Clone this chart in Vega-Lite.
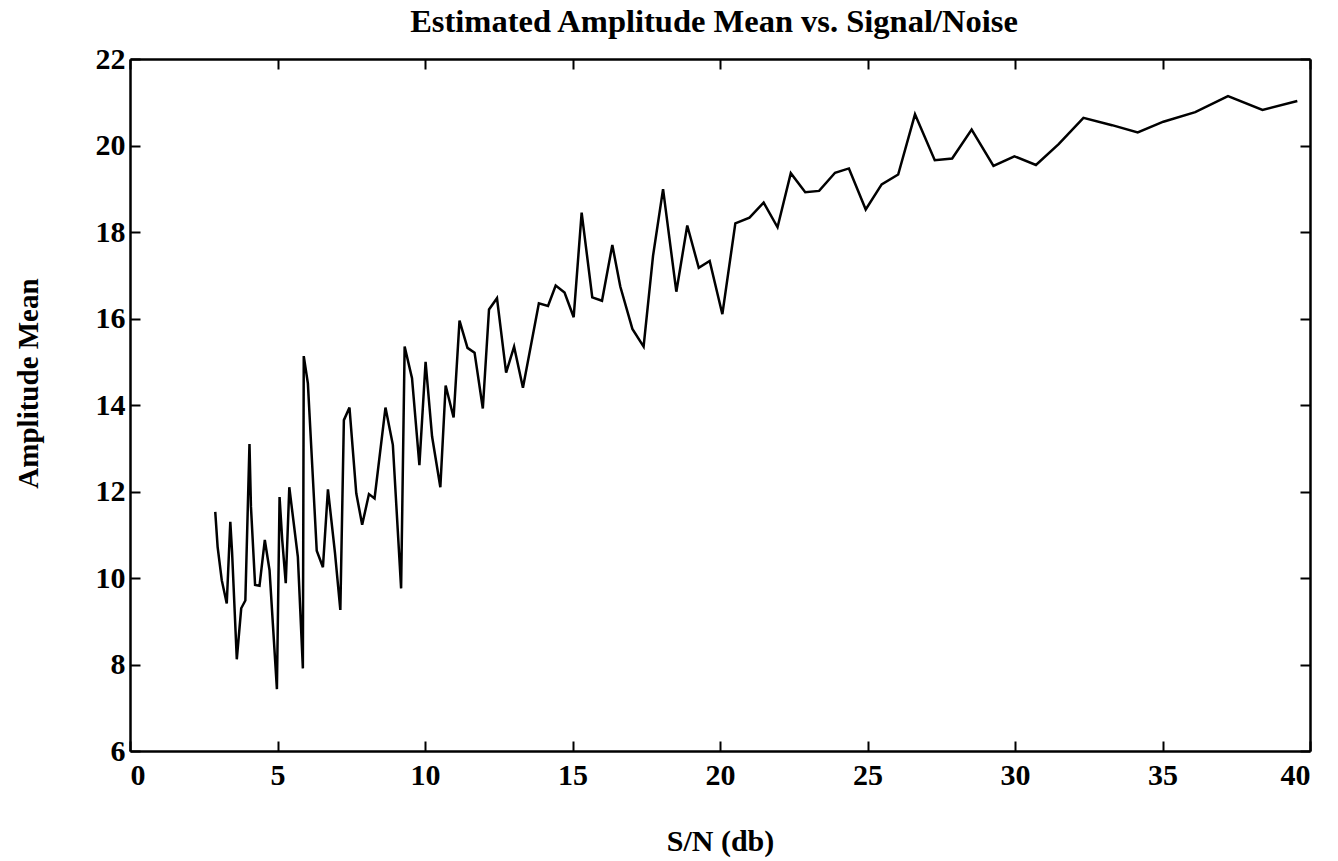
{
  "$schema": "https://vega.github.io/schema/vega-lite/v6.json",
  "autosize": {"type": "none"},
  "width": 1180,
  "height": 692,
  "padding": {"left": 130, "top": 59, "right": 28, "bottom": 110},
  "background": "white",
  "title": {
    "text": "Estimated Amplitude Mean vs. Signal/Noise",
    "font": "Liberation Serif",
    "fontSize": 32.5,
    "fontWeight": "bold",
    "color": "black",
    "anchor": "middle",
    "baseline": "alphabetic",
    "offset": -20,
    "dx": -6
  },
  "config": {"view": {"stroke": null}},
  "data": {
    "values": [
      {"sn": 2.89, "amp": 11.53},
      {"sn": 2.97, "amp": 10.72},
      {"sn": 3.11, "amp": 9.95},
      {"sn": 3.28, "amp": 9.41},
      {"sn": 3.40, "amp": 11.30},
      {"sn": 3.46, "amp": 10.60},
      {"sn": 3.62, "amp": 8.12},
      {"sn": 3.77, "amp": 9.30},
      {"sn": 3.91, "amp": 9.48},
      {"sn": 4.05, "amp": 13.10},
      {"sn": 4.10, "amp": 11.65},
      {"sn": 4.24, "amp": 9.84},
      {"sn": 4.39, "amp": 9.82},
      {"sn": 4.57, "amp": 10.88},
      {"sn": 4.73, "amp": 10.18},
      {"sn": 4.98, "amp": 7.43},
      {"sn": 5.07, "amp": 11.87},
      {"sn": 5.16, "amp": 10.88},
      {"sn": 5.28, "amp": 9.88},
      {"sn": 5.40, "amp": 12.10},
      {"sn": 5.69, "amp": 10.49},
      {"sn": 5.86, "amp": 7.91},
      {"sn": 5.89, "amp": 15.13},
      {"sn": 6.03, "amp": 14.50},
      {"sn": 6.33, "amp": 10.63},
      {"sn": 6.54, "amp": 10.25},
      {"sn": 6.71, "amp": 12.05},
      {"sn": 6.95, "amp": 10.57},
      {"sn": 7.13, "amp": 9.26},
      {"sn": 7.25, "amp": 13.65},
      {"sn": 7.44, "amp": 13.94},
      {"sn": 7.67, "amp": 11.96},
      {"sn": 7.87, "amp": 11.23},
      {"sn": 8.10, "amp": 11.94},
      {"sn": 8.29, "amp": 11.84},
      {"sn": 8.66, "amp": 13.94},
      {"sn": 8.91, "amp": 13.08},
      {"sn": 9.19, "amp": 9.76},
      {"sn": 9.31, "amp": 15.35},
      {"sn": 9.56, "amp": 14.62},
      {"sn": 9.81, "amp": 12.61},
      {"sn": 10.02, "amp": 15.00},
      {"sn": 10.24, "amp": 13.27},
      {"sn": 10.52, "amp": 12.10},
      {"sn": 10.70, "amp": 14.45},
      {"sn": 10.97, "amp": 13.71},
      {"sn": 11.17, "amp": 15.95},
      {"sn": 11.44, "amp": 15.32},
      {"sn": 11.68, "amp": 15.21},
      {"sn": 11.96, "amp": 13.92},
      {"sn": 12.17, "amp": 16.21},
      {"sn": 12.44, "amp": 16.47},
      {"sn": 12.75, "amp": 14.75},
      {"sn": 13.02, "amp": 15.35},
      {"sn": 13.32, "amp": 14.40},
      {"sn": 13.86, "amp": 16.35},
      {"sn": 14.17, "amp": 16.29},
      {"sn": 14.43, "amp": 16.76},
      {"sn": 14.73, "amp": 16.60},
      {"sn": 15.04, "amp": 16.03},
      {"sn": 15.31, "amp": 18.45},
      {"sn": 15.67, "amp": 16.49},
      {"sn": 16.00, "amp": 16.41},
      {"sn": 16.35, "amp": 17.70},
      {"sn": 16.62, "amp": 16.74},
      {"sn": 17.03, "amp": 15.76},
      {"sn": 17.41, "amp": 15.35},
      {"sn": 17.73, "amp": 17.45},
      {"sn": 18.07, "amp": 18.99},
      {"sn": 18.52, "amp": 16.62},
      {"sn": 18.89, "amp": 18.15},
      {"sn": 19.28, "amp": 17.17},
      {"sn": 19.65, "amp": 17.33},
      {"sn": 20.08, "amp": 16.10},
      {"sn": 20.52, "amp": 18.20},
      {"sn": 21.00, "amp": 18.33},
      {"sn": 21.48, "amp": 18.68},
      {"sn": 21.95, "amp": 18.11},
      {"sn": 22.40, "amp": 19.36},
      {"sn": 22.89, "amp": 18.92},
      {"sn": 23.36, "amp": 18.95},
      {"sn": 23.90, "amp": 19.37},
      {"sn": 24.37, "amp": 19.47},
      {"sn": 24.94, "amp": 18.52},
      {"sn": 25.48, "amp": 19.10},
      {"sn": 26.04, "amp": 19.33},
      {"sn": 26.61, "amp": 20.72},
      {"sn": 27.28, "amp": 19.66},
      {"sn": 27.87, "amp": 19.70},
      {"sn": 28.53, "amp": 20.37},
      {"sn": 29.27, "amp": 19.53},
      {"sn": 29.98, "amp": 19.75},
      {"sn": 30.71, "amp": 19.55},
      {"sn": 31.48, "amp": 20.03},
      {"sn": 32.32, "amp": 20.64},
      {"sn": 33.29, "amp": 20.47},
      {"sn": 34.16, "amp": 20.30},
      {"sn": 35.03, "amp": 20.55},
      {"sn": 36.11, "amp": 20.77},
      {"sn": 37.22, "amp": 21.14},
      {"sn": 38.39, "amp": 20.82},
      {"sn": 39.57, "amp": 21.03}
    ]
  },
  "layer": [
    {
      "mark": {"type": "line", "color": "black", "strokeWidth": 2.5},
      "encoding": {
        "x": {
          "field": "sn",
          "type": "quantitative",
          "scale": {"domain": [0, 40], "nice": false, "zero": false},
          "axis": {
            "orient": "bottom",
            "values": [0, 5, 10, 15, 20, 25, 30, 35, 40],
            "grid": false,
            "tickSize": -10,
            "tickWidth": 2,
            "tickColor": "black",
            "domainColor": "black",
            "domainWidth": 2.5,
            "labelFont": "Liberation Serif",
            "labelFontSize": 30,
            "labelFontWeight": "bold",
            "labelColor": "black",
            "labelBaseline": "alphabetic",
            "labelPadding": 43,
            "labelOverlap": false,
            "title": "S/N (db)",
            "titleFont": "Liberation Serif",
            "titleFontSize": 30,
            "titleFontWeight": "bold",
            "titleColor": "black",
            "titleBaseline": "alphabetic",
            "titleAnchor": "middle",
            "titleY": 99
          }
        },
        "y": {
          "field": "amp",
          "type": "quantitative",
          "scale": {"domain": [6, 22], "nice": false, "zero": false},
          "axis": {
            "orient": "left",
            "values": [6, 8, 10, 12, 14, 16, 18, 20, 22],
            "grid": false,
            "tickSize": -10,
            "tickWidth": 2,
            "tickColor": "black",
            "domainColor": "black",
            "domainWidth": 2.5,
            "labelFont": "Liberation Serif",
            "labelFontSize": 30,
            "labelFontWeight": "bold",
            "labelColor": "black",
            "labelPadding": 15,
            "labelOverlap": false,
            "title": "Amplitude Mean",
            "titleFont": "Liberation Serif",
            "titleFontSize": 29,
            "titleFontWeight": "bold",
            "titleColor": "black",
            "titleAngle": -90,
            "titleAlign": "center",
            "titleBaseline": "alphabetic",
            "titleX": -93,
            "titleY": 324
          }
        }
      }
    },
    {
      "mark": {"type": "line", "opacity": 0},
      "encoding": {
        "x": {
          "field": "sn",
          "type": "quantitative",
          "scale": {"domain": [0, 40], "nice": false, "zero": false},
          "axis": {
            "orient": "top",
            "values": [0, 5, 10, 15, 20, 25, 30, 35, 40],
            "grid": false,
            "labels": false,
            "tickSize": -10,
            "tickWidth": 2,
            "tickColor": "black",
            "domainColor": "black",
            "domainWidth": 2.5,
            "title": null
          }
        },
        "y": {
          "field": "amp",
          "type": "quantitative",
          "scale": {"domain": [6, 22], "nice": false, "zero": false},
          "axis": {
            "orient": "right",
            "values": [6, 8, 10, 12, 14, 16, 18, 20, 22],
            "grid": false,
            "labels": false,
            "tickSize": -10,
            "tickWidth": 2,
            "tickColor": "black",
            "domainColor": "black",
            "domainWidth": 2.5,
            "title": null
          }
        }
      }
    }
  ],
  "resolve": {"axis": {"x": "independent", "y": "independent"}}
}
